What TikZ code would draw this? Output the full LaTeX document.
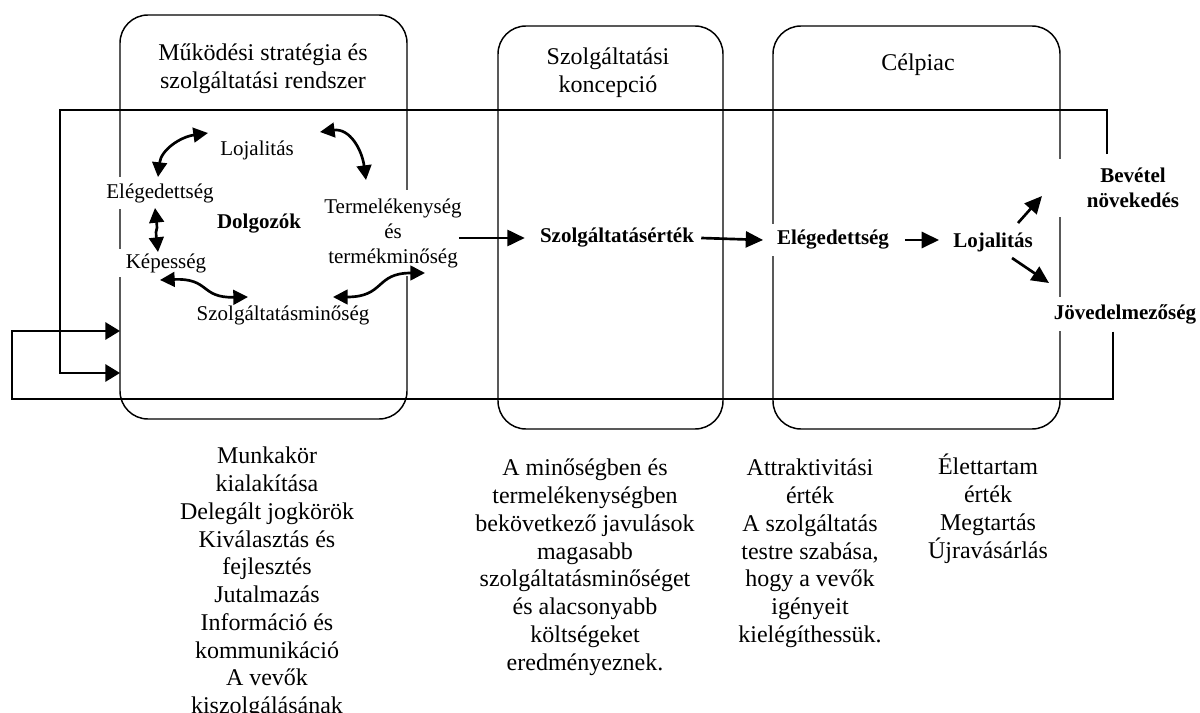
\documentclass[tikz,border=0pt]{standalone}
\usepackage{fontspec}
\setmainfont{Liberation Serif}
\usetikzlibrary{arrows.meta,calc,fit}
\newcommand\txtL{\fontsize{18}{20.8}\selectfont}
\newcommand\txtS{\fontsize{15.75}{18.75}\selectfont}
\begin{document}
\begin{tikzpicture}[x=0.75pt,y=-0.75pt,
  panel/.style={draw,line width=1.1pt,rounded corners=21pt,inner sep=0pt},
  lbl/.style={font=\txtS,fill=white,inner sep=3pt,align=center},
  blbl/.style={lbl,font=\txtS\bfseries},
  title/.style={font=\txtL,align=center,inner sep=0pt},
  note/.style={font=\txtL,align=center,inner sep=0pt,anchor=north},
  flow/.style={line width=2pt,-{Triangle[length=13pt,width=12pt]}},
  link/.style={line width=2pt,{Triangle[length=11pt,width=11pt]}-{Triangle[length=11pt,width=11pt]}},
  loopline/.style={line width=1.4pt},
  looparr/.style={loopline,-{Triangle[length=11pt,width=13pt]}}]

\useasboundingbox (0,0) rectangle (1200,713);
\clip (0,0) rectangle (1200,713);

% the three stages
\node[panel,fit={(120,15) (407,419)}] (b1) {};
\node[panel,fit={(498,26) (723,429)}] (b2) {};
\node[panel,fit={(773,26) (1060,429)}] (b3) {};

\node[title] (t1) at (263,69) {Működési stratégia és\\szolgáltatási rendszer};
\node[title] (t2) at (608,73) {Szolgáltatási\\koncepció};
\node[title] (t3) at (918,65) {Célpiac};

% employee cycle
\node[lbl] (loj) at (257,150) {Lojalitás};
\node[lbl,inner ysep=5pt] (ele) at (160,193) {Elégedettség};
\node[blbl] (dol) at (259,224) {Dolgozók};
\node[lbl,minimum width=75pt] (kep) at (166,263) {Képesség};
\node[lbl] (szm) at (283,315) {Szolgáltatásminőség};
\node[lbl,inner xsep=0pt,inner ysep=6pt] (ter) at (393,233) {Termelékenység\\és\\termékminőség};

% value chain
\node[blbl] (szv) at (617,238) {Szolgáltatásérték};
\node[blbl,inner xsep=5pt,inner ysep=5pt] (ele2) at (833,240) {Elégedettség};
\node[blbl] (loj2) at (993,242) {Lojalitás};
\node[blbl,minimum width=117pt,minimum height=43pt] (bev) at (1133,188) {Bevétel\\növekedés};
\node[blbl,minimum height=26pt] (jov) at (1125,314) {Jövedelmezőség};

% feedback loops
\coordinate (topL) at (60,110);
\coordinate (lowL) at (12,399);
\coordinate (inA) at (120,331);
\coordinate (inB) at (120,373);
\draw[looparr] ($(bev.north)+(-26,-5)$) |- (topL) |- (inB);
\draw[looparr] ($(jov.south)+(-12,0)$) |- (lowL) |- (inA);

% cycle links
\draw[link] ($(ele)+(-2,-16)$) .. controls +(3,-27) and +(-28,4) .. ($(loj)+(-49,-17)$);
\draw[link] ($(loj)+(63,-18)$) .. controls +(30,-4) and +(-4,-30) .. ($(ter)+(-27,-53)$);
\draw[link] ($(ele)+(-5,15)$) .. controls +(3,27) and +(-3,-27) .. ($(kep)+(-8,-11)$);
\draw[link] ($(kep)+(-6,17)$) .. controls +(50,-2) and +(-48,1) .. ($(szm)+(-35,-18)$);
\draw[link] ($(szm)+(50,-18)$) .. controls +(52,0) and +(-50,0) .. ($(ter)+(32,40)$);

% chain arrows
\draw[flow] ($(ter.east |- szv.west)+(-3,0)$) -- ($(szv.west)+(-11,0)$);
\draw[flow] ($(szv.east)+(3,0)$) -- ($(ele2.west)+(-7,0)$);
\draw[flow] ($(ele2.east)+(9,0)$) -- ($(loj2.west |- ele2.east)+(-10,0)$);
\draw[flow] ($(loj2)+(25,-19)$) -- ($(bev)+(-91,8)$);
\draw[flow] ($(loj2)+(19,16)$) -- ($(jov)+(-76,-31)$);

% explanations under the stages
\node[note] (n1) at (267,447) {Munkakör\\kialakítása\\Delegált jogkörök\\Kiválasztás és\\fejlesztés\\Jutalmazás\\Információ és\\kommunikáció\\A vevők\\kiszolgálásának};
\node[note] (n2) at (585,459) {A minőségben és\\termelékenységben\\bekövetkező javulások\\magasabb\\szolgáltatásminőséget\\és alacsonyabb\\költségeket\\eredményeznek.};
\node[note] (n3) at (810,459) {Attraktivitási\\érték\\A szolgáltatás\\testre szabása,\\hogy a vevők\\igényeit\\kielégíthessük.};
\node[note] (n4) at (988,454) {Élettartam\\érték\\Megtartás\\Újravásárlás};
\end{tikzpicture}
\end{document}
